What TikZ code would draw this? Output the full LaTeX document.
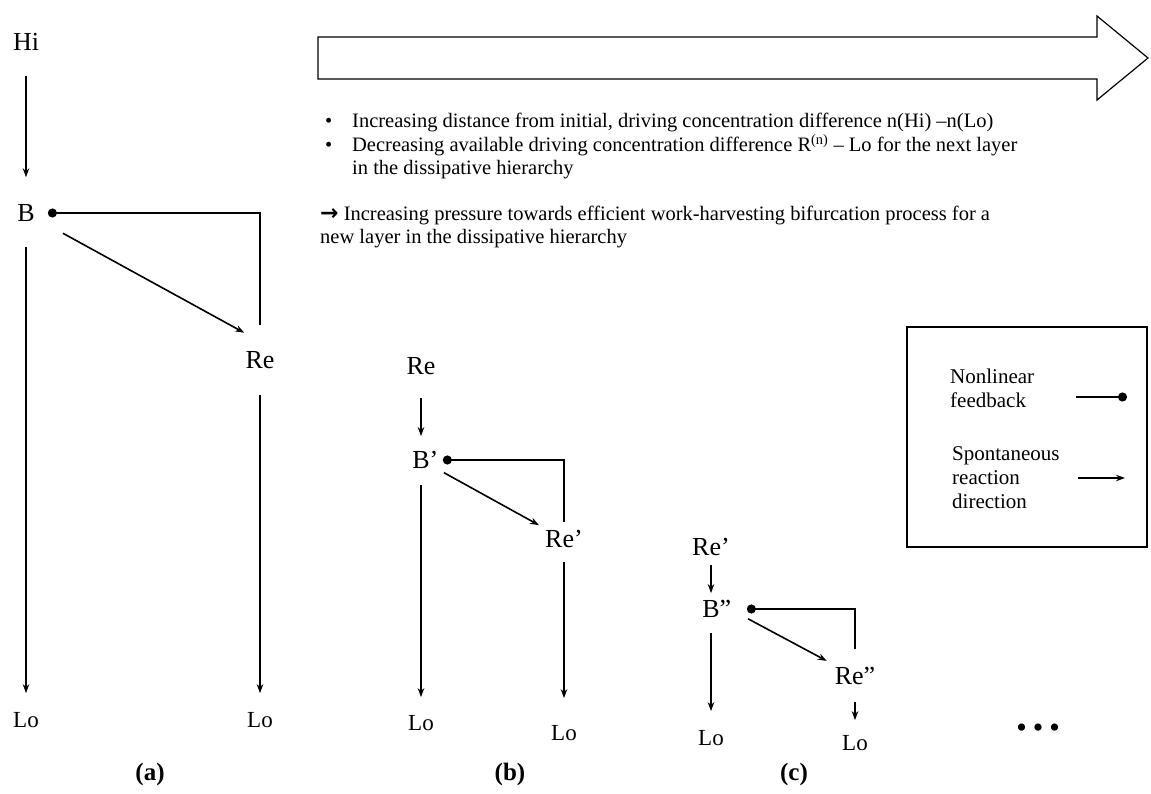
\documentclass[tikz,border=0pt]{standalone}
\usepackage{fontspec}
\setmainfont{Liberation Serif}
\newfontfamily\symfont{DejaVu Sans}
\usetikzlibrary{arrows.meta}

\begin{document}
\begin{tikzpicture}[
  x=1pt, y=-1pt,
  lbl/.style={font=\fontsize{26}{28}\selectfont, inner sep=0pt},
  lo/.style={font=\fontsize{23}{25}\selectfont, inner sep=0pt},
  panel/.style={font=\fontsize{25}{27}\selectfont\bfseries, inner sep=0pt},
  txt/.style={font=\fontsize{20.5}{23}\selectfont, inner sep=0pt, align=left},
  legtxt/.style={font=\fontsize{21}{24}\selectfont, inner sep=0pt, align=left},
  arr/.style={-{Stealth[length=9pt,width=6.5pt]}, line width=1.6pt},
  fb/.style={-{Circle[length=9pt]}, line width=1.8pt}
]
\useasboundingbox (0,0) rectangle (1151,794);

% Hierarchy arrow and notes
\draw[line width=1.2pt] (318,37) -- (1097,37) -- (1097,16) -- (1148,58)
  -- (1097,100) -- (1097,79) -- (318,79) -- cycle;
\node[txt, anchor=north west] (notes) at (325,111) {%
  \begin{tabular}{@{}p{27pt}@{}l@{}}
  • & Increasing distance from initial, driving concentration difference n(Hi) –n(Lo)\\
  • & Decreasing available driving concentration difference R\textsuperscript{(n)} – Lo for the next layer\\
    & in the dissipative hierarchy
  \end{tabular}};
\node[txt, anchor=north west] (pressure) at (320,204)
  {\strut{\symfont\bfseries\fontsize{22}{23}\selectfont →} Increasing pressure towards efficient work-harvesting bifurcation process for a\\
   new layer in the dissipative hierarchy};

% Panel (a)
\node[lbl] (hiA) at (26,42) {Hi};
\node[lbl] (bA) at (26,213) {B};
\node[lbl] (reA) at (260,360) {Re};
\node[lo] (loA1) at (26,720) {Lo};
\node[lo] (loA2) at (260,720) {Lo};
\node[panel] (capA) at (150,774) {(a)};

\draw[arr, shorten <=25pt, shorten >=27pt] (hiA) -- (bA);
\draw[arr, shorten <=25pt, shorten >=19pt] (bA) -- (loA1);
\draw[fb, shorten <=26pt, shorten >=13pt] (reA) |- (bA);
\draw[arr, shorten <=32pt, shorten >=18pt] (bA) -- ([yshift=18.6pt]reA.center);
\draw[arr, shorten <=26pt, shorten >=19pt] (reA) -- (loA2);

% Panel (b)
\node[lbl] (reB) at (421,366) {Re};
\node[lbl] (bB) at (421,460) {B\rlap{’}};
\node[lbl] (reB2) at (564,539) {Re’};
\node[lo] (loB1) at (421,723) {Lo};
\node[lo] (loB2) at (564,733) {Lo};
\node[panel] (capB) at (510,774) {(b)};

\draw[arr, shorten <=23pt, shorten >=15pt] (reB) -- (bB);
\draw[arr, shorten <=16pt, shorten >=18pt] (bB) -- (loB1);
\draw[fb, shorten <=8.5pt, shorten >=13pt] (reB2) |- (bB);
\draw[arr, shorten <=16pt, shorten >=10pt] (bB) -- (reB2);
\draw[arr, shorten <=14pt, shorten >=27pt] (reB2) -- (loB2);

% Panel (c)
\node[lbl] (reC) at (711,547) {Re’};
\node[lbl] (bC) at (711,609) {B\rlap{”}};
\node[lbl] (reC2) at (855,676) {Re”};
\node[lo] (loC1) at (711,738) {Lo};
\node[lo] (loC2) at (855,743) {Lo};
\node[panel] (capC) at (794,774) {(c)};

\draw[arr, shorten <=9pt, shorten >=7pt] (reC) -- (bC);
\draw[arr, shorten <=15pt, shorten >=19pt] (bC) -- (loC1);
\draw[fb, shorten <=18pt, shorten >=27pt] (reC2) |- (bC);
\draw[arr, shorten <=42pt, shorten >=13pt] ([yshift=10pt]bC.center) -- (reC2);
\draw[arr, shorten <=17pt, shorten >=15pt] (reC2) -- (loC2);

\node[font=\fontsize{30}{32}\selectfont, inner sep=0pt] (more) at (1038,731)
  {•\kern6pt•\kern6pt•};

% Legend
\node[draw, line width=1.2pt, minimum width=240pt, minimum height=220pt,
  inner sep=0pt] (legend) at (1027,437) {};
\node[legtxt, anchor=west] (legFb) at (950,388.5) {Nonlinear\\feedback};
\node[legtxt, anchor=west] (legRx) at (952,478) {Spontaneous\\reaction\\direction};
\coordinate (fbS) at (1076,397);
\coordinate (fbE) at (1127,397);
\coordinate (rxS) at (1078,478);
\coordinate (rxE) at (1125,478);
\draw[fb] (fbS) -- (fbE);
\draw[arr, line width=1.3pt] (rxS) -- (rxE);

\end{tikzpicture}
\end{document}
